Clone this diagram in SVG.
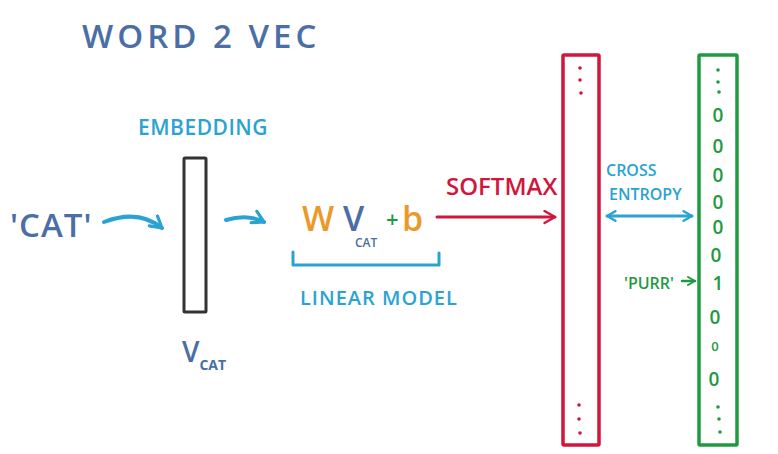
<svg xmlns="http://www.w3.org/2000/svg" width="778" height="454" viewBox="0 0 778 454">
<defs>
<style>
text{font-family:"Open Sans","Liberation Sans",sans-serif;font-weight:600;}
.blue{fill:#4a6ea5;}
.cyan{fill:#2aa3d3;}
.red{fill:#d0163c;}
.green{fill:#1f9a42;}
.orange{fill:#eb9a2a;}
.ln{fill:none;stroke-linecap:round;stroke-linejoin:round;}
</style>
<marker id="hc" viewBox="0 0 10 10" refX="8" refY="5" markerWidth="4" markerHeight="4" orient="auto"><path d="M1,1 L8,5 L1,9" fill="none" stroke="#2aa3d3" stroke-width="2" stroke-linecap="round" stroke-linejoin="round"/></marker>
<marker id="hr" viewBox="0 0 10 10" refX="8" refY="5" markerWidth="5" markerHeight="5" orient="auto"><path d="M1,1 L8,5 L1,9" fill="none" stroke="#d0163c" stroke-width="1.6" stroke-linecap="round" stroke-linejoin="round"/></marker>
<marker id="hcs" viewBox="0 0 10 10" refX="8" refY="5" markerWidth="4" markerHeight="4" orient="auto-start-reverse"><path d="M1,1 L8,5 L1,9" fill="none" stroke="#2aa3d3" stroke-width="2" stroke-linecap="round" stroke-linejoin="round"/></marker>
<marker id="hg" viewBox="0 0 10 10" refX="8" refY="5" markerWidth="4" markerHeight="4" orient="auto"><path d="M1,1 L8,5 L1,9" fill="none" stroke="#1f9a42" stroke-width="2" stroke-linecap="round" stroke-linejoin="round"/></marker>
</defs>
<rect width="778" height="454" fill="#ffffff"/>

<text x="82" y="48" font-size="33" class="blue" letter-spacing="4">WORD 2 VEC</text>

<g id="input">
<text x="10" y="237" font-size="33" class="blue" letter-spacing="1">'CAT'</text>
</g>

<g id="embedding">
<text x="138" y="135" font-size="21" class="cyan" letter-spacing="0.5">EMBEDDING</text>
<rect x="184" y="158" width="22" height="154" fill="none" stroke="#333333" stroke-width="3" rx="1"/>
<text x="182" y="362" font-size="28" class="blue">V<tspan font-size="14" font-weight="bold" dy="8">CAT</tspan></text>
</g>

<g id="linear">
<text x="302" y="231" font-size="34" class="orange">W</text>
<text x="343" y="231" font-size="34" class="blue">V</text>
<text x="355" y="247" font-size="12" class="blue" font-weight="bold">CAT</text>
<text x="386" y="227" font-size="22" class="green" font-weight="bold">+</text>
<text x="402" y="231" font-size="34" class="orange">b</text>
<path class="ln" d="M293,252 V265 H439 V253" stroke="#2aa3d3" stroke-width="3"/>
<text x="300" y="305" font-size="20" class="cyan" letter-spacing="1">LINEAR MODEL</text>
</g>

<g id="softmax">
<text x="446" y="195" font-size="24" class="red">SOFTMAX</text>
<rect x="563" y="55" width="36" height="390" fill="none" stroke="#d0163c" stroke-width="3.5" rx="1"/>
<circle cx="580" cy="68" r="1.8" fill="#d0163c"/>
<circle cx="580" cy="80" r="1.8" fill="#d0163c"/>
<circle cx="581" cy="93" r="1.8" fill="#d0163c"/>
<circle cx="579" cy="405" r="1.8" fill="#d0163c"/>
<circle cx="579" cy="419" r="1.8" fill="#d0163c"/>
<circle cx="580" cy="433" r="1.8" fill="#d0163c"/>
</g>

<g id="target">
<rect x="699" y="55" width="38" height="390" fill="none" stroke="#1f9a42" stroke-width="3.5" rx="1"/>
<circle cx="718" cy="70" r="1.8" fill="#1f9a42"/>
<circle cx="718" cy="82" r="1.8" fill="#1f9a42"/>
<circle cx="719" cy="92" r="1.8" fill="#1f9a42"/>
<circle cx="718" cy="407" r="1.8" fill="#1f9a42"/>
<circle cx="719" cy="419" r="1.8" fill="#1f9a42"/>
<circle cx="720" cy="432" r="1.8" fill="#1f9a42"/>
<g class="green" font-size="19" text-anchor="middle">
<text x="718" y="122">0</text>
<text x="718" y="153">0</text>
<text x="718" y="182">0</text>
<text x="718" y="209">0</text>
<text x="718" y="234">0</text>
<text x="716" y="262">0</text>
<text x="718" y="290">1</text>
<text x="715" y="324">0</text>
<text x="715" y="351" font-size="13">0</text>
<text x="714" y="386">0</text>
</g>
<text x="606" y="176" font-size="16" class="cyan">CROSS</text>
<text x="609" y="200" font-size="16" class="cyan">ENTROPY</text>
<text x="624" y="289" font-size="16" class="green">'PURR'</text>
</g>

<g id="connectors" class="ln">
<path d="M104,222 C125,214 145,214 162,228" stroke="#2aa3d3" stroke-width="4" marker-end="url(#hc)"/>
<path d="M226,220 C240,216 252,216 264,222" stroke="#2aa3d3" stroke-width="4" marker-end="url(#hc)"/>
<path d="M437,217 H555" stroke="#d0163c" stroke-width="3" marker-end="url(#hr)"/>
<path d="M607,216 H692" stroke="#2aa3d3" stroke-width="3" marker-start="url(#hcs)" marker-end="url(#hcs)"/>
<path d="M682,281 H695" stroke="#1f9a42" stroke-width="2.5" marker-end="url(#hg)"/>
</g>
</svg>
